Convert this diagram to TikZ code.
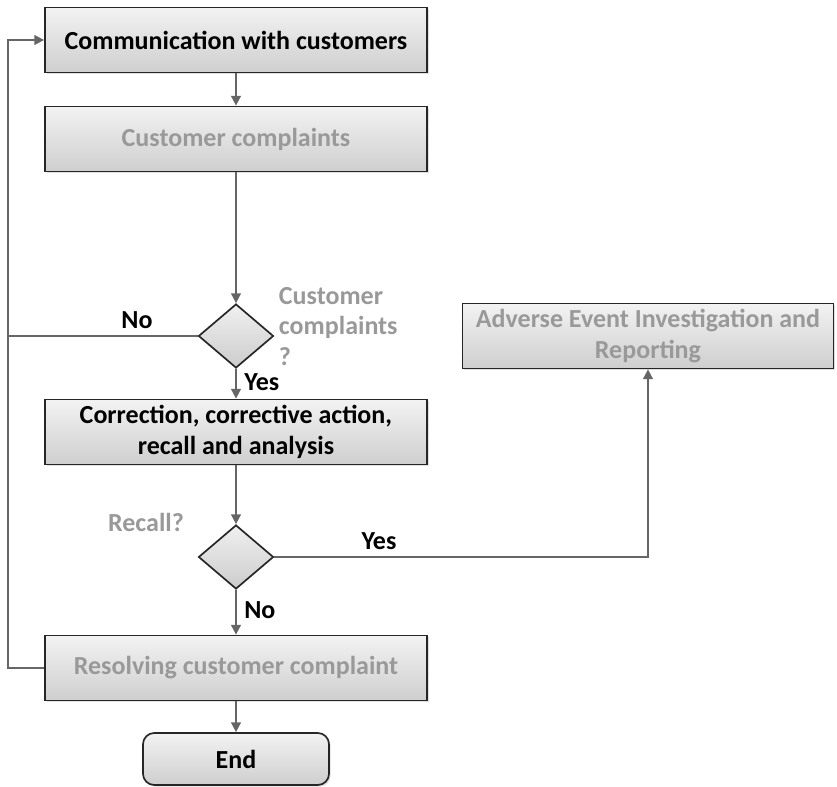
\documentclass[tikz,border=0pt]{standalone}
\usepackage{fontspec}
\setmainfont{Carlito}
\usetikzlibrary{arrows.meta,shapes.geometric,shadows}
\newcommand{\blurtxt}[1]{\textcolor{black!40}{#1}}

\begin{document}
\begin{tikzpicture}[
    x=0.025cm, y=-0.025cm,
    every node/.style={font=\fontsize{18.5}{22}\selectfont\bfseries},
    procbox/.style={rectangle, draw=black!85, line width=1.2pt, top color=gray!10, bottom color=gray!38, minimum width=9.55cm, minimum height=1.625cm, align=center, drop shadow={opacity=0.25, shadow xshift=1.2pt, shadow yshift=-1.2pt}},
    decision/.style={diamond, draw=black!85, line width=1.2pt, top color=gray!12, bottom color=gray!40, minimum width=1.875cm, minimum height=1.6cm, inner sep=0pt},
    arrow/.style={-{Triangle[length=7pt,width=7pt]}, draw=black!60, line width=1.2pt},
    link/.style={draw=black!60, line width=1.2pt},
]
\useasboundingbox (0,0) rectangle (837,787);
\node[procbox] (comm) at (236,40) {Communication with customers};
\node[procbox] (compl) at (236,139) {\blurtxt{Customer complaints}};
\node[decision] (dec1) at (236,336) {};
\node[anchor=north west, align=left] (dec1txt) at (274,282) {\blurtxt{Customer}\\\blurtxt{complaints}\\\blurtxt{?}};
\node[procbox] (corr) at (236,432) {Correction, corrective action,\\recall and analysis};
\node[decision] (dec2) at (236,557) {};
\node (dec2txt) at (146,522) {\blurtxt{Recall?}};
\node[procbox, minimum width=9.275cm] (adverse) at (648,336) {\blurtxt{Adverse Event Investigation and}\\\blurtxt{Reporting}};
\node[procbox] (resolve) at (236,668) {\blurtxt{Resolving customer complaint}};
\node[procbox, rounded corners=8pt, minimum width=4.65cm, minimum height=1.3cm] (finish) at (236,759) {End};
\coordinate (looptop) at (8,40);
\coordinate (loopbot) at (8,668);
\draw[arrow] (comm) -- (compl);
\draw[arrow] (compl) -- (dec1);
\draw[arrow] (dec1) -- (corr) node[pos=0.45, right=2pt] {Yes};
\draw[link] (dec1.west) -- (dec1.west -| looptop) node[pos=0.32, above=1pt] {No};
\draw[arrow] (resolve.west) -- (loopbot) -- (looptop) -- (comm.west);
\draw[arrow] (corr) -- (dec2);
\draw[arrow] (dec2.east) -| (adverse.south) node[pos=0.14, above=1pt] {Yes};
\draw[arrow] (dec2) -- (resolve) node[pos=0.45, right=2pt] {No};
\draw[arrow] (resolve) -- (finish);
\end{tikzpicture}
\end{document}
